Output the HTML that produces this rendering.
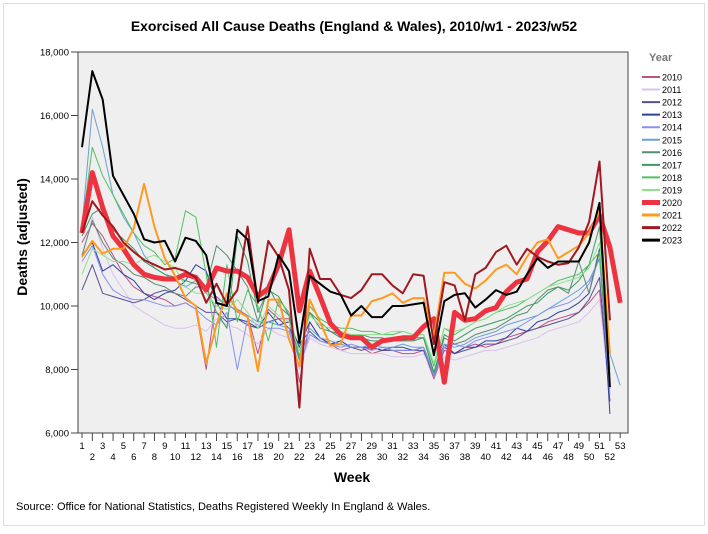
<!DOCTYPE html>
<html><head><meta charset="utf-8"><style>
body{margin:0;background:#fff;font-family:"Liberation Sans",Arial,sans-serif}
svg text{font-family:"Liberation Sans",Arial,sans-serif}
</style></head><body>
<svg id="chart" width="708" height="529" xmlns="http://www.w3.org/2000/svg">
<rect width="708" height="529" fill="#fff"/>
<rect x="3.5" y="3.5" width="701" height="522" fill="none" stroke="#ddd"/>
<text x="354" y="31" text-anchor="middle" font-size="14" font-weight="bold">Exorcised All Cause Deaths (England &amp; Wales), 2010/w1 - 2023/w52</text>
<rect x="78" y="52" width="550" height="381" fill="#efefef" stroke="#444" stroke-width="1"/>
<g id="yaxis"></g>
<g id="xaxis"></g>
<g id="series"></g>
<text x="352" y="482" text-anchor="middle" font-size="14" font-weight="bold">Week</text>
<text x="0" y="0" transform="translate(27,237) rotate(-90)" text-anchor="middle" font-size="14" font-weight="bold">Deaths (adjusted)</text>
<text x="649" y="61" font-size="11" font-weight="bold" fill="#777">Year</text>
<g id="legend"></g>
<text x="16" y="510" font-size="11">Source: Office for National Statistics, Deaths Registered Weekly In England &amp; Wales.</text>
</svg>
<script>
const years = ["2010","2011","2012","2013","2014","2015","2016","2017","2018","2019","2020","2021","2022","2023"];
const colors = ["#c0508a","#dcc0f0","#5a4f8f","#3040a0","#8a90f0","#6aa0d8","#5a8a70","#3a9a60","#50c060","#90e090","#ee3340","#ff9a20","#a01820","#000000"];
const widths = [1,1,1,1,1,1,1,1,1,1,5,2,2,2];
const yTicks = [6000,8000,10000,12000,14000,16000,18000];
const s2010 = [12000,12600,12200,11600,11000,10600,10400,10300,10200,10000,10100,9900,8000,10300,10000,9900,9700,8500,9900,9600,9600,7600,9500,9000,8800,8600,8700,8700,8500,8600,8600,8500,8500,8600,7700,8600,8500,8700,8800,8700,8800,9000,9100,9200,9300,9500,9600,9700,9800,10100,10500,7000];
const s2011 = [11500,12800,11800,11000,10500,10000,9800,9600,9400,9300,9300,9400,9200,9600,9400,9300,9100,8800,9300,9100,9000,8000,9000,8800,8700,8600,8500,8500,8500,8500,8400,8400,8400,8500,7900,8400,8300,8400,8500,8600,8600,8700,8800,8900,9000,9200,9300,9400,9500,9800,10200,7200];
const s2012 = [10500,11300,10400,10300,10200,10100,10200,10400,10500,10400,10200,10000,9800,9800,9500,9600,9400,9300,9500,9600,9300,8800,9200,8900,8800,8800,8700,8600,8700,8600,8600,8600,8600,8600,7800,8700,8500,8600,8700,8800,8800,8900,9000,9200,9300,9400,9500,9600,9800,10200,10900,7000];
const s2013 = [11600,12000,11100,11300,11000,10800,10400,10200,10400,10500,10800,11300,11100,10100,9600,9600,9500,9300,9800,9400,9500,8700,9500,9000,8800,8900,8700,8700,8700,8600,8700,8700,8600,8700,7900,8800,8500,8700,8700,8900,8900,9000,9300,9200,9500,9600,9800,9900,10100,10400,11800,6600];
const s2014 = [11400,11900,11000,10500,10300,10200,10200,10100,10000,10000,10100,9900,9600,9400,9800,8000,9600,9400,9300,9300,9200,8100,9100,8900,8800,8700,8800,8700,8600,8700,8600,8600,8600,8700,7900,8700,8800,8700,8900,9000,9100,9200,9300,9500,9700,9900,10000,10100,10300,10700,11500,7200];
const s2015 = [12500,16200,15000,13500,12800,12300,11600,11200,11000,10800,10600,10800,10400,10200,10100,9800,9700,9500,9500,9400,9300,8300,9300,9000,8900,8800,8700,8700,8800,8700,8700,8800,8700,8700,7800,8800,8700,8800,9000,9100,9200,9400,9500,9600,9700,9900,10100,10300,10500,10800,11500,8500,7500];
const s2016 = [11600,12700,12000,11500,11300,11000,10900,10700,10600,10400,10300,10600,10600,11900,11600,11100,10600,9500,10600,10000,9700,8300,9800,9300,9200,9000,9100,9100,9000,9000,8900,8900,8900,9000,7900,9000,8800,8900,9100,9200,9300,9500,9700,9800,10200,10500,10600,10400,11400,10400,11700,7400];
const s2017 = [12200,12900,13100,12400,12100,11800,11400,11200,11000,10900,10800,10700,10600,9800,9300,12200,11400,9800,10500,10300,9700,8400,9800,9500,9200,9100,9100,9000,8900,8900,8900,8900,9000,9000,7900,9100,8900,9100,9300,9400,9500,9600,9800,10000,10100,10400,10600,10500,10800,11300,12500,7800];
const s2018 = [12500,15000,14100,13500,12900,12300,11900,11700,11300,11500,13000,12800,11000,8700,11300,9500,10500,10000,8900,10200,9800,8400,10000,9600,9400,9300,9300,9200,9200,9100,9100,9200,9100,9100,8100,9300,9100,9300,9500,9600,9800,9900,10000,10200,10400,10600,10800,10900,11000,11300,11700,8000];
const s2019 = [11000,11800,11600,11400,11400,11300,11500,11600,11400,11200,10600,10400,10400,10000,9900,10200,9800,9300,10000,9700,9500,8600,9700,9400,9300,9200,9100,9100,9100,9100,9200,9200,9100,9100,8200,9300,9200,9300,9500,9600,9800,10000,10100,10200,10400,10600,10700,10800,10900,11200,12000,8600];
const s2020 = [12300,14200,13100,12200,11800,11300,11000,10900,10850,10850,11000,10900,10500,11200,11100,11100,10900,10300,10550,11300,12400,9850,11100,10300,9450,9100,9000,9000,8700,8900,8950,9000,9000,9350,9600,7600,9800,9550,9600,9850,9950,10450,10750,10850,11700,12050,12500,12400,12300,12300,12850,11850,10100];
const s2021 = [11550,12050,11650,11800,11800,12450,13850,12500,11500,10950,10250,10000,8200,9400,10400,9850,9650,7950,10200,10200,8950,8100,10200,9500,8750,8800,9700,9700,10150,10250,10400,10100,10250,10250,9000,11050,11050,10700,10550,10800,11150,11300,11000,11550,12000,12100,11500,11700,11900,12300,13000,8500];
const s2022 = [12300,13300,12850,12500,12000,11700,11450,11300,11150,11200,11100,10900,10100,10700,10050,10500,12500,10100,12050,11550,10500,6800,11800,10850,10850,10350,10250,10500,11000,11000,10650,10400,11000,10950,8800,10750,10650,9550,11000,11200,11700,11900,11300,11800,11550,11400,11300,11350,11850,12650,14550,9550];
const s2023 = [15000,17400,16500,14100,13500,12900,12100,12000,12050,11400,12150,12050,11600,10100,10000,12400,12100,10150,10300,11600,11100,8850,10950,10700,10450,10350,9700,10000,9650,9650,10000,10000,10050,10100,8450,10150,10350,10400,9950,10200,10500,10350,10450,11000,11500,11200,11400,11400,11400,12000,13250,7450];
const allSeries = [s2010,s2011,s2012,s2013,s2014,s2015,s2016,s2017,s2018,s2019,s2020,s2021,s2022,s2023];

const NS="http://www.w3.org/2000/svg";
function xScale(w){return 82+(w-1)*10.35;}
function yScale(v){return 433-(v-6000)/12000*381;}
function mk(tag,attrs,parent){const e=document.createElementNS(NS,tag);for(const k in attrs)e.setAttribute(k,attrs[k]);parent.appendChild(e);return e;}

const ya=document.getElementById('yaxis');
yTicks.forEach(t=>{
  const y=yScale(t);
  const ln=mk('line',{x1:71,x2:78,y1:y,y2:y,stroke:'#444'},ya);
  
  
  const tx=mk('text',{x:69,y:y+3.5,'text-anchor':'end','font-size':9.5},ya);
  tx.textContent=t.toLocaleString('en-US');
  
  
});
const xa=document.getElementById('xaxis');
for(let w=1;w<=53;w++){
  const x=xScale(w);
  const ln=mk('line',{x1:x,x2:x,y1:433,y2:(w%2?438:441),stroke:'#444'},xa);
  
  
  const tx=mk('text',{x:x,y:(w%2? 449:460),'text-anchor':'middle','font-size':9.5},xa);
  tx.textContent=w;
  
  
}
const sg=document.getElementById('series');
allSeries.forEach((s,i)=>{
  const pts=s.map((v,j)=>xScale(j+1).toFixed(1)+','+yScale(v).toFixed(1)).join(' ');
  const pl=mk('polyline',{points:pts,fill:'none',stroke:colors[i],'stroke-width':widths[i],'stroke-linejoin':'round'},sg);
  
  
});
const lg=document.getElementById('legend');
years.forEach((yr,i)=>{
  const y=77+i*12.55;
  const ln=mk('line',{x1:642,x2:660,y1:y,y2:y,stroke:colors[i],'stroke-width':Math.min(widths[i]+1,5)},lg);
  
  
  const tx=mk('text',{x:662,y:y+3.5,'font-size':9},lg);
  tx.textContent=yr;
  
  
});
</script>
</body></html>
